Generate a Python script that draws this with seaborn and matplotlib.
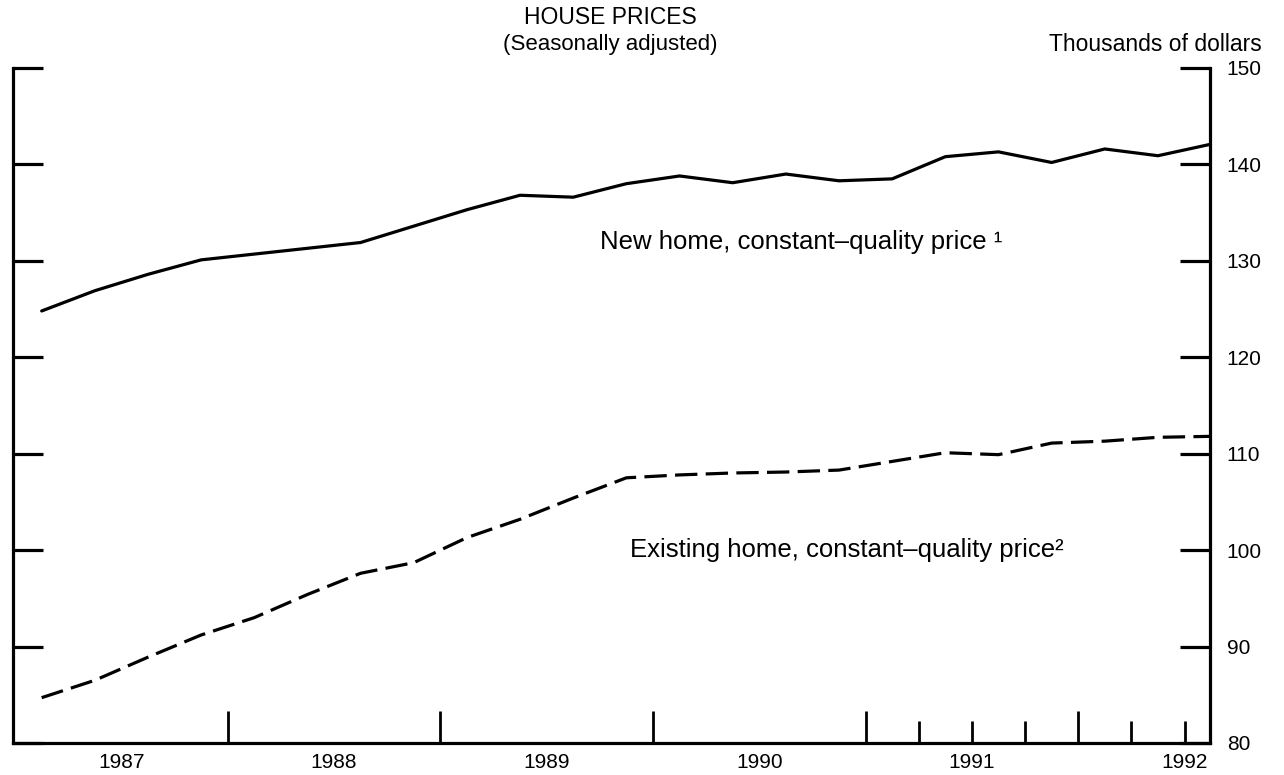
import numpy as np
import pandas as pd
import matplotlib
matplotlib.use("Agg")
import matplotlib.pyplot as plt
from matplotlib import font_manager
import seaborn as sns

sns.set_theme(style="ticks")
plt.rcParams["font.family"] = ["Liberation Sans", "DejaVu Sans"]
plt.rcParams["text.color"] = "black"

# quarterly observations, 1987Q1 - 1992Q3
quarters = pd.period_range("1987Q1", "1992Q3", freq="Q")
new_home = [124.8, 126.9, 128.6, 130.1, 130.7, 131.3, 131.9, 133.6, 135.3, 136.8,
            136.6, 138.0, 138.8, 138.1, 139.0, 138.3, 138.5, 140.8, 141.3, 140.2,
            141.6, 140.9, 142.1]
existing_home = [84.7, 86.5, 88.9, 91.2, 93.0, 95.4, 97.6, 98.7, 101.3, 103.2,
                 105.4, 107.5, 107.8, 108.0, 108.1, 108.3, 109.2, 110.1, 109.9, 111.1,
                 111.3, 111.7, 111.8]

year_labels = ["1987", "1988", "1989", "1990", "1991", "1992"]
year_breaks = [1988, 1989, 1990, 1991, 1992]
quarter_ticks = [1991.25, 1991.5, 1991.75, 1992.25, 1992.5]
y_ticks = [80, 90, 100, 110, 120, 130, 140, 150]

# decimal year at mid-quarter
t = quarters.year + (quarters.quarter - 0.5) / 4
df = pd.DataFrame({"t": t, "new": new_home, "existing": existing_home})

narrow = "Liberation Sans Narrow"
have_narrow = any(f.name == narrow for f in font_manager.fontManager.ttflist)
title_family = [narrow, "Liberation Sans"] if have_narrow else ["Liberation Sans"]

fig = plt.figure(figsize=(12.84, 7.75), dpi=100)
ax = fig.add_axes([0.0101, 0.0413, 0.9323, 0.8710])

sns.lineplot(data=df, x="t", y="new", ax=ax, color="black", lw=2.3)
sns.lineplot(data=df, x="t", y="existing", ax=ax, color="black", lw=2.3,
             linestyle=(0, (7, 2.6)))

ax.set_xlim(1986.99, 1992.62)
ax.set_ylim(80, 150)
ax.set_xlabel("")
ax.set_ylabel("")

for s in ["left", "right", "bottom"]:
    ax.spines[s].set_linewidth(2.3)
    ax.spines[s].set_color("black")
ax.spines["top"].set_visible(False)

# y ticks: inward on both sides, labels on the right only
ax.set_yticks(y_ticks)
ax.tick_params(axis="y", which="major", direction="in", length=21.5, width=2.3,
               left=True, right=True, labelleft=False, labelright=True,
               labelsize=15, pad=12, colors="black")

# x ticks: year breaks (long) and quarters (short), no labels
ax.set_xticks(year_breaks)
ax.set_xticks(quarter_ticks, minor=True)
ax.tick_params(axis="x", which="major", direction="in", length=23, width=2.0,
               labelbottom=False, colors="black")
ax.tick_params(axis="x", which="minor", direction="in", length=15.5, width=2.0,
               labelbottom=False, colors="black")

# year labels centred in each year
sec = ax.secondary_xaxis("bottom")
sec.set_xticks([int(y) + 0.5 for y in year_labels], labels=year_labels)
sec.tick_params(length=0, labelsize=15, pad=7, colors="black")
sec.spines["bottom"].set_visible(False)

ax.text(1989.75, 132.0, "New home, constant\u2013quality price \u00b9",
        fontsize=18.5, va="center", ha="left", color="black")
ax.text(1989.89, 100.0, "Existing home, constant\u2013quality price\u00b2",
        fontsize=18.5, va="center", ha="left", color="black")

fig.text(0.475, 0.977, "HOUSE PRICES", ha="center", va="center",
         fontsize=16.5, family=title_family, color="black")
fig.text(0.475, 0.942, "(Seasonally adjusted)", ha="center", va="center",
         fontsize=16, color="black")
fig.text(0.983, 0.942, "Thousands of dollars", ha="right", va="center",
         fontsize=16.5, color="black")

fig.savefig("out.png", dpi=100, facecolor="white")
